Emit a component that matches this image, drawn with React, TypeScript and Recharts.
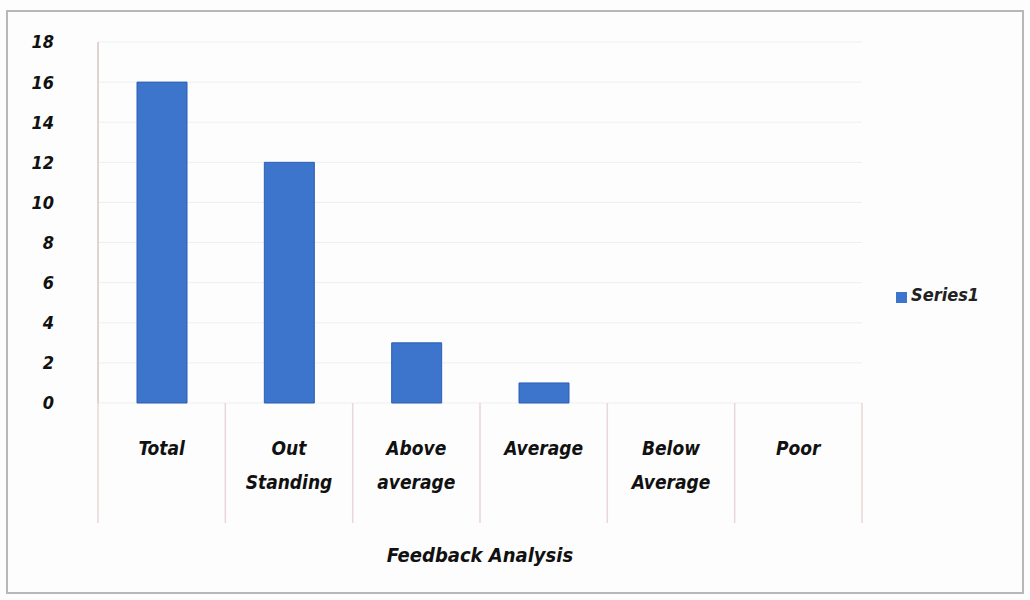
import { BarChart, Bar, XAxis, YAxis, CartesianGrid, Legend, Label } from 'recharts';

const categories = ['Total', 'Out Standing', 'Above average', 'Average', 'Below Average', 'Poor'];
const series1 = [16, 12, 3, 1, 0, 0];
const yTicks = [0, 2, 4, 6, 8, 10, 12, 14, 16, 18];

const data = categories.map((name, i) => ({ name, Series1: series1[i] }));

const FONT = "'DejaVu Sans Condensed', 'Liberation Sans Narrow', sans-serif";

const CategoryTick = (props: any) => {
  const { x, y, payload, index, visibleTicksCount, width } = props;
  const band = width / visibleTicksCount;
  const left = x - band / 2;
  const lines = String(payload.value).split(' ');
  return (
    <g>
      <line x1={left} y1={y - 8} x2={left} y2={y + 112} stroke="#ead6d6" strokeWidth={1.5} />
      {index === visibleTicksCount - 1 && (
        <line x1={left + band} y1={y - 8} x2={left + band} y2={y + 112} stroke="#ead6d6" strokeWidth={1.5} />
      )}
      <text
        x={x}
        y={y + 44}
        textAnchor="middle"
        fill="#111"
        fontFamily={FONT}
        fontSize={19}
        fontWeight="bold"
        fontStyle="italic"
      >
        {lines.map((line, i) => (
          <tspan key={i} x={x} dy={i === 0 ? 0 : 34}>
            {line}
          </tspan>
        ))}
      </text>
    </g>
  );
};

export default function App() {
  return (
    <div
      style={{
        position: 'absolute',
        left: 0,
        top: 0,
        width: 1030,
        height: 600,
        background: '#fdfdfd',
      }}
    >
      <div
        style={{
          position: 'absolute',
          left: 6,
          top: 10,
          width: 1018,
          height: 584,
          border: '2px solid #b8b8b8',
          boxSizing: 'border-box',
        }}
      />
      <BarChart
        width={1030}
        height={600}
        data={data}
        margin={{ top: 42, right: 38, left: 0, bottom: 0 }}
        barCategoryGap={0}
        style={{ position: 'absolute', left: 0, top: 0 }}
      >
        <CartesianGrid vertical={false} stroke="#efefef" />
        <XAxis
          dataKey="name"
          height={197}
          axisLine={false}
          tickLine={false}
          interval={0}
          tick={<CategoryTick />}
        >
          <Label
            value="Feedback Analysis"
            position="insideBottom"
            offset={38}
            fill="#111"
            fontFamily={FONT}
            fontSize={20}
            fontWeight="bold"
            fontStyle="italic"
          />
        </XAxis>
        <YAxis
          width={98}
          domain={[0, 18]}
          ticks={yTicks}
          interval={0}
          axisLine={{ stroke: '#d8c4c4', strokeWidth: 1.5 }}
          tickLine={false}
          tickMargin={38}
          tick={{ fill: '#111', fontFamily: FONT, fontSize: 18, fontWeight: 'bold', fontStyle: 'italic' }}
        />
        <Legend
          layout="vertical"
          align="right"
          verticalAlign="middle"
          iconType="square"
          iconSize={11}
          wrapperStyle={{ left: 896, top: 284, width: 130 }}
          formatter={(value) => (
            <span style={{ color: '#222', fontFamily: FONT, fontSize: 18, fontWeight: 'bold', fontStyle: 'italic' }}>
              {value}
            </span>
          )}
        />
        <Bar
          dataKey="Series1"
          fill="#3d74cc"
          stroke="#2d5fb4"
          strokeWidth={1}
          barSize={50}
          isAnimationActive={false}
        />
      </BarChart>
    </div>
  );
}
